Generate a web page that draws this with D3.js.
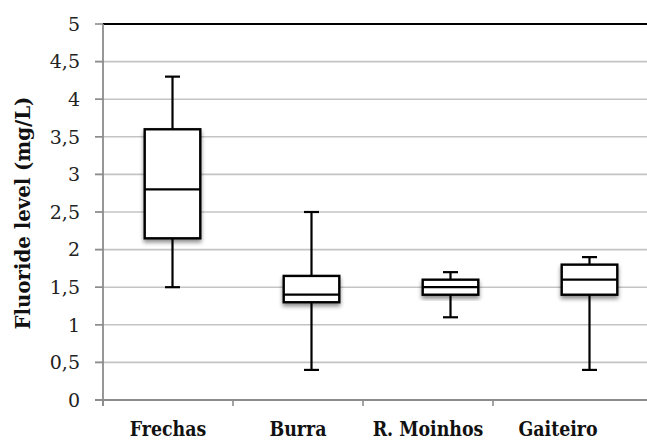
<!DOCTYPE html>
<html>
<head>
<meta charset="utf-8">
<script src="https://cdn.jsdelivr.net/npm/d3@7"></script>
<style>
  body { margin: 0; background: #fff; }
  svg { display: block; }
</style>
</head>
<body>
<div id="chart"></div>
<script>
// sites and box-plot statistics (mg/L)
var sites = ["Frechas", "Burra", "R. Moinhos", "Gaiteiro"];
var whiskerLow = [1.5, 0.4, 1.1, 0.4];
var q1 = [2.15, 1.3, 1.4, 1.4];
var median = [2.8, 1.4, 1.5, 1.6];
var q3 = [3.6, 1.65, 1.6, 1.8];
var whiskerHigh = [4.3, 2.5, 1.7, 1.9];
var yTicks = [0, 0.5, 1, 1.5, 2, 2.5, 3, 3.5, 4, 4.5, 5];

var w = 647, h = 442;
var plotLeft = 103, plotTop = 24, plotBottom = 400;

var svg = d3.select("#chart").append("svg")
  .attr("width", w)
  .attr("height", h);

var defs = svg.append("defs");
var shadow = defs.append("filter").attr("id", "shadow")
  .attr("x", "-20%").attr("y", "-20%").attr("width", "140%").attr("height", "160%");
shadow.append("feGaussianBlur").attr("in", "SourceAlpha").attr("stdDeviation", 2);
shadow.append("feOffset").attr("dx", 0).attr("dy", 3).attr("result", "blur");
shadow.append("feComponentTransfer").append("feFuncA").attr("type", "linear").attr("slope", 0.45);
var merge = shadow.append("feMerge");
merge.append("feMergeNode");
merge.append("feMergeNode").attr("in", "SourceGraphic");

var blurLine = defs.append("filter").attr("id", "soft")
  .attr("x", "-200%").attr("width", "500%");
blurLine.append("feGaussianBlur").attr("stdDeviation", 0.8);

var y = d3.scaleLinear().domain([0, 5]).range([plotBottom, plotTop]);

// the label axis and the boxes are not on the same spacing in the original
var xLabel = d3.scaleBand().domain(sites).range([plotLeft, plotLeft + 520]);
var xBox = d3.scaleBand().domain(sites).range([plotLeft, plotLeft + 556]).paddingInner(0.6).paddingOuter(0.3);

// horizontal grid lines
svg.selectAll("line.grid")
  .data(yTicks.filter(function(d){ return d > 0 && d < 5; }))
  .enter().append("line")
    .attr("class", "grid")
    .attr("x1", plotLeft - 8)
    .attr("x2", w)
    .attr("y1", function(d){ return y(d); })
    .attr("y2", function(d){ return y(d); })
    .style("stroke", "#c4c4c4")
    .style("stroke-width", 1.6);

// top border at 5
svg.append("line")
  .attr("x1", plotLeft).attr("x2", w)
  .attr("y1", y(5)).attr("y2", y(5))
  .style("stroke", "#000").style("stroke-width", 1.8);

// y tick labels
svg.selectAll("text.ytick")
  .data(yTicks)
  .enter().append("text")
    .attr("class", "ytick")
    .attr("x", 80)
    .attr("y", function(d){ return y(d); })
    .attr("dy", "0.36em")
    .attr("text-anchor", "end")
    .style("font-family", "'DejaVu Serif', serif")
    .style("font-size", "19px")
    .style("fill", "#222")
    .text(function(d){ return String(d).replace(".", ","); });

var boxes = sites.map(function(s, i){
  return { site: s, lo: whiskerLow[i], q1: q1[i], med: median[i], q3: q3[i], hi: whiskerHigh[i] };
});

var g = svg.selectAll("g.box")
  .data(boxes)
  .enter().append("g")
    .attr("class", "box");

g.each(function(d){
  var sel = d3.select(this);
  var x0 = xBox(d.site), bw = xBox.bandwidth(), cx = x0 + bw / 2;
  // faint vertical lines below each box (hidden stacked bars)
  [x0, x0 + bw].forEach(function(xx){
    sel.append("line")
      .attr("x1", xx).attr("x2", xx)
      .attr("y1", y(d.q1)).attr("y2", y(0))
      .attr("filter", "url(#soft)")
      .style("stroke", "#d4d4d4").style("stroke-width", 1.6);
  });
  // whiskers
  sel.append("line")
    .attr("x1", cx).attr("x2", cx)
    .attr("y1", y(d.hi)).attr("y2", y(d.q3))
    .style("stroke", "#000").style("stroke-width", 2.2);
  sel.append("line")
    .attr("x1", cx).attr("x2", cx)
    .attr("y1", y(d.q1)).attr("y2", y(d.lo))
    .style("stroke", "#000").style("stroke-width", 2.2);
  [d.hi, d.lo].forEach(function(v){
    sel.append("line")
      .attr("x1", cx - 7.5).attr("x2", cx + 7.5)
      .attr("y1", y(v)).attr("y2", y(v))
      .style("stroke", "#000").style("stroke-width", 2.2);
  });
  // box
  sel.append("rect")
    .attr("x", x0).attr("width", bw)
    .attr("y", y(d.q3)).attr("height", y(d.q1) - y(d.q3))
    .attr("filter", "url(#shadow)")
    .style("fill", "#fff").style("stroke", "#000").style("stroke-width", 2.4);
  sel.append("line")
    .attr("x1", x0).attr("x2", x0 + bw)
    .attr("y1", y(d.med)).attr("y2", y(d.med))
    .style("stroke", "#000").style("stroke-width", 2.2);
});

// y axis line and tick marks
svg.append("line")
  .attr("x1", plotLeft).attr("x2", plotLeft)
  .attr("y1", plotTop).attr("y2", plotBottom + 6)
  .style("stroke", "#8c8c8c").style("stroke-width", 1.8);
svg.selectAll("line.ytickmark")
  .data(yTicks)
  .enter().append("line")
    .attr("class", "ytickmark")
    .attr("x1", plotLeft - 8).attr("x2", plotLeft)
    .attr("y1", function(d){ return y(d); })
    .attr("y2", function(d){ return y(d); })
    .style("stroke", "#8c8c8c").style("stroke-width", 1.6);

// x axis
svg.append("line")
  .attr("x1", plotLeft - 8).attr("x2", w)
  .attr("y1", plotBottom).attr("y2", plotBottom)
  .style("stroke", "#8c8c8c").style("stroke-width", 1.8);
svg.selectAll("line.xtick")
  .data(sites)
  .enter().append("line")
    .attr("class", "xtick")
    .attr("x1", function(d){ return xLabel(d); })
    .attr("x2", function(d){ return xLabel(d); })
    .attr("y1", plotBottom).attr("y2", plotBottom + 6)
    .style("stroke", "#8c8c8c").style("stroke-width", 1.6);

// bold serif labels, narrowed a little to match the original face
svg.selectAll("text.xlabel")
  .data(sites)
  .enter().append("text")
    .attr("class", "xlabel")
    .attr("transform", function(d){
      return "translate(" + (xLabel(d) + xLabel.bandwidth() / 2) + ",436) scale(0.87,1)";
    })
    .attr("text-anchor", "middle")
    .style("font-family", "'DejaVu Serif', serif")
    .style("font-weight", "bold")
    .style("font-size", "20px")
    .style("fill", "#111")
    .text(function(d){ return d; });

// y axis title
svg.append("text")
  .attr("transform", "translate(30," + ((plotTop + plotBottom) / 2 + 1) + ") rotate(-90) scale(0.94,1)")
  .attr("text-anchor", "middle")
  .style("font-family", "'DejaVu Serif', serif")
  .style("font-weight", "bold")
  .style("font-size", "21px")
  .style("fill", "#111")
  .text("Fluoride level (mg/L)");
</script>
</body>
</html>
